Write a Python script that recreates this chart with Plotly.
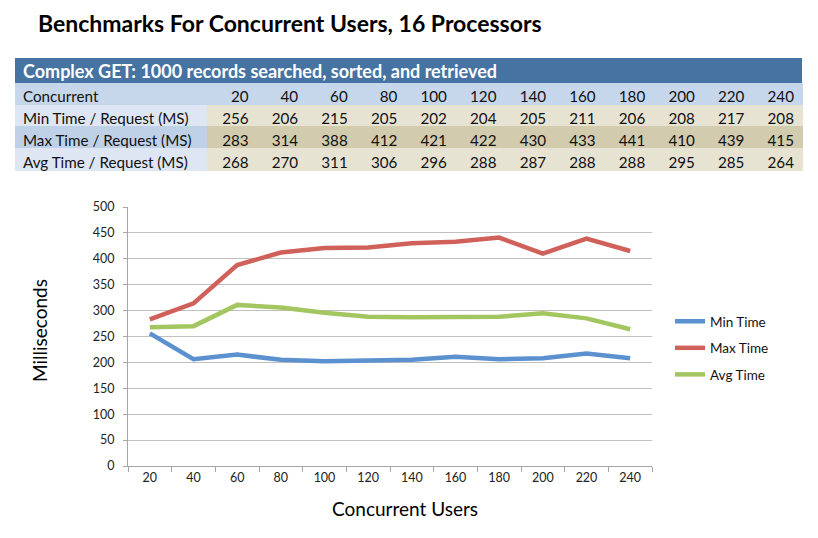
import plotly.graph_objects as go

# values
concurrent = [20, 40, 60, 80, 100, 120, 140, 160, 180, 200, 220, 240]
min_time = [256, 206, 215, 205, 202, 204, 205, 211, 206, 208, 217, 208]
max_time = [283, 314, 388, 412, 421, 422, 430, 433, 441, 410, 439, 415]
avg_time = [268, 270, 311, 306, 296, 288, 287, 288, 288, 295, 285, 264]

row_labels = ["Min Time / Request (MS)", "Max Time / Request (MS)", "Avg Time / Request (MS)"]
series_names = ["Min Time", "Max Time", "Avg Time"]

title_text = "Benchmarks For Concurrent Users, 16 Processors"
banner_text = "Complex GET: 1000 records searched, sorted, and retrieved"

W, H = 818, 538
OFF = 8  # page body margin the figure sits inside
FONT = "Lato, 'Open Sans', sans-serif"

BLUE = "#5A91CE"
RED = "#D0615A"
GREEN = "#A3C660"
HEAD_FILL = "#C7D7EB"


def px_x(x):
    return (x - OFF) / W


def px_y(y):
    return 1 - (y - OFF) / H


fig = go.Figure()

# table: "Concurrent" row as header, the three timing rows as cells
label_fill = ["#DDE6F2", "#BFD1E7", "#DDE6F2"]
value_fill = ["#E7E3D3", "#D3CBAD", "#E7E3D3"]
# non-breaking spaces so the labels stay on one line
cell_values = [[s.replace(" ", "\u00a0") for s in row_labels]]
cell_fills = [label_fill]
for i in range(len(concurrent)):
    cell_values.append([str(min_time[i]), str(max_time[i]), str(avg_time[i])])
    cell_fills.append(value_fill)

col_w = (802 - 207) / len(concurrent)
fig.add_trace(go.Table(
    domain=dict(x=[px_x(15), px_x(802)], y=[px_y(172), px_y(83)]),
    columnwidth=[192] + [col_w] * len(concurrent),
    header=dict(
        values=["Concurrent"] + [str(c) for c in concurrent],
        fill_color=HEAD_FILL,
        line=dict(color=HEAD_FILL, width=1),
        align=["left"] + ["right"] * len(concurrent),
        font=dict(family=FONT, size=15.2, color="#111111"),
        height=21.75,
    ),
    cells=dict(
        values=cell_values,
        fill_color=cell_fills,
        line=dict(color=cell_fills, width=1),
        align=["left"] + ["right"] * len(concurrent),
        font=dict(family=FONT, size=15.2, color="#111111"),
        height=21.75,
    ),
))

# line chart
x_cat = [str(c) for c in concurrent]
for name, vals, color in zip(series_names, [min_time, max_time, avg_time], [BLUE, RED, GREEN]):
    fig.add_trace(go.Scatter(
        x=x_cat, y=vals, name=name, mode="lines",
        line=dict(color=color, width=4.5),
        legendgroup=name,
    ))

fig.add_shape(type="rect", xref="paper", yref="paper",
              x0=px_x(15), x1=px_x(802), y0=px_y(83), y1=px_y(58),
              fillcolor="#4673A1", line=dict(width=0), layer="below")

fig.add_annotation(text="<b>" + banner_text + "</b>", xref="paper", yref="paper",
                   x=px_x(21), y=px_y(71), xanchor="left", yanchor="middle",
                   showarrow=False, font=dict(family=FONT, size=18, color="white"))

fig.add_annotation(text="<b>" + title_text + "</b>", xref="paper", yref="paper",
                   x=px_x(36), y=px_y(23), xanchor="left", yanchor="middle",
                   showarrow=False, font=dict(family=FONT, size=23, color="black"))

fig.add_annotation(text="Concurrent Users", xref="paper", yref="paper",
                   x=px_x(405), y=px_y(509), xanchor="center", yanchor="middle",
                   showarrow=False, font=dict(family=FONT, size=19, color="black"))

fig.add_annotation(text="Milliseconds", xref="paper", yref="paper", textangle=-90,
                   x=px_x(39), y=px_y(331), xanchor="center", yanchor="middle",
                   showarrow=False, font=dict(family=FONT, size=19, color="black"))

fig.update_layout(
    width=W, height=H,
    margin=dict(l=0, r=0, t=0, b=0, autoexpand=False),
    paper_bgcolor="white", plot_bgcolor="white",
    font=dict(family=FONT, color="#222222"),
    showlegend=True,
    legend=dict(x=px_x(670), y=px_y(306), xanchor="left", yanchor="top",
                font=dict(family=FONT, size=13.5, color="#111111"),
                tracegroupgap=6, bgcolor="rgba(0,0,0,0)"),
    xaxis=dict(
        domain=[px_x(128), px_x(652)],
        type="category", range=[-0.5, len(concurrent) - 0.5],
        showgrid=False, showline=True, linecolor="#A6A6A6", linewidth=1,
        ticks="outside", tickson="boundaries", ticklen=5, tickcolor="#A6A6A6",
        tickfont=dict(family=FONT, size=12.5, color="#222222"),
        automargin=False, fixedrange=True,
    ),
    yaxis=dict(
        domain=[px_y(466), px_y(207)],
        range=[0, 500], dtick=50,
        showgrid=True, gridcolor="#BFBFBF", gridwidth=1,
        showline=True, linecolor="#A6A6A6", linewidth=1,
        ticks="outside", ticklen=4, tickcolor="#A6A6A6",
        ticklabelstandoff=6,
        tickfont=dict(family=FONT, size=12.5, color="#222222"),
        zeroline=False, automargin=False, fixedrange=True,
    ),
)

fig.write_html("out.html")
